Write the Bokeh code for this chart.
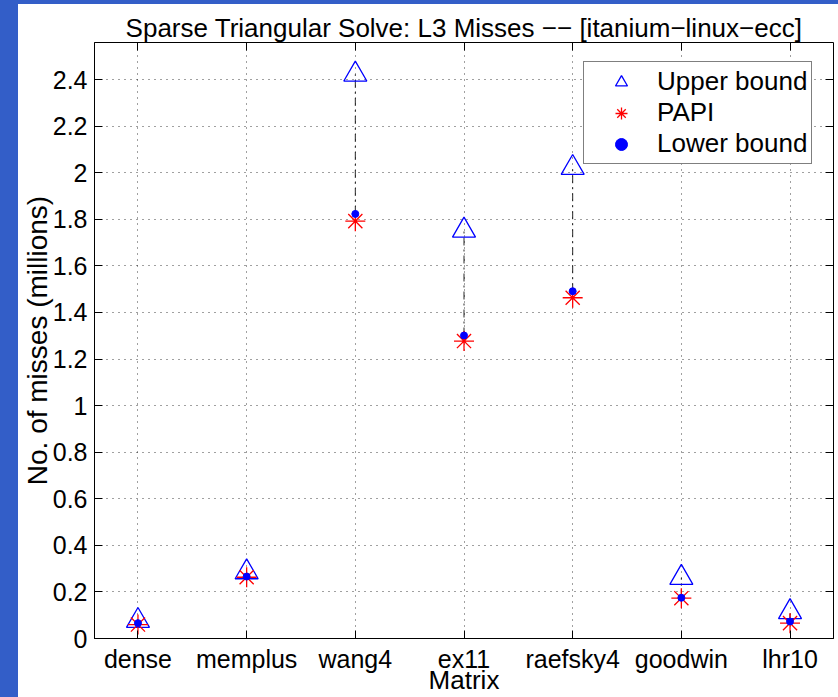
from bokeh.plotting import figure
from bokeh.models import (FixedTicker, LinearAxis, Legend, LegendItem, Range1d,
                          Spacer, Row, Column, ColumnDataSource)
from bokeh.embed import file_html
from bokeh.resources import INLINE

# ---- data ----
matrices = ["dense", "memplus", "wang4", "ex11", "raefsky4", "goodwin", "lhr10"]
upper_bound = [0.076, 0.285, 2.422, 1.752, 2.021, 0.261, 0.114]
papi = [0.060, 0.263, 1.792, 1.277, 1.463, 0.173, 0.066]
lower_bound = [0.066, 0.266, 1.823, 1.301, 1.491, 0.175, 0.073]
y_ticks = [0, 0.2, 0.4, 0.6, 0.8, 1.0, 1.2, 1.4, 1.6, 1.8, 2.0, 2.2, 2.4]
y_tick_labels = ["0", "0.2", "0.4", "0.6", "0.8", "1", "1.2", "1.4", "1.6", "1.8", "2", "2.2", "2.4"]

TITLE = "Sparse Triangular Solve: L3 Misses \u2212\u2212 [itanium\u2212linux\u2212ecc]"
FONT = "Liberation Sans"
BLUE_BORDER = "#335ec8"

xs = list(range(1, len(matrices) + 1))
src = ColumnDataSource(dict(x=xs, upper=upper_bound, papi=papi, lower=lower_bound))

p = figure(width=820, height=693, x_range=Range1d(0.6, 7.4), y_range=Range1d(0, 2.559),
           output_backend="svg", toolbar_location=None, title=TITLE,
           min_border_left=76, min_border_right=5, min_border_top=38, min_border_bottom=59)
p.background_fill_color = "white"
p.border_fill_color = "white"
p.outline_line_color = "black"
p.outline_line_width = 1

p.title.text_font = FONT
p.title.text_font_size = "26px"
p.title.text_font_style = "normal"
p.title.text_color = "black"
p.title.align = "center"
p.title.standoff = 0

# axes
xa = p.xaxis[0]
xa.ticker = FixedTicker(ticks=xs)
xa.major_label_overrides = {x: m for x, m in zip(xs, matrices)}
ya = p.yaxis[0]
ya.ticker = FixedTicker(ticks=y_ticks)
ya.major_label_overrides = {t: l for t, l in zip(y_ticks, y_tick_labels)}
for ax in (xa, ya):
    ax.major_label_text_font = FONT
    ax.major_label_text_font_size = "25px"
    ax.major_label_text_color = "black"
    ax.axis_label_text_font = FONT
    ax.axis_label_text_font_style = "normal"
    ax.axis_label_text_color = "black"
    ax.major_tick_in = 8
    ax.major_tick_out = 0
    ax.minor_tick_line_color = None
    ax.axis_line_color = "black"
    ax.major_tick_line_color = "black"
xa.axis_label = "Matrix"
xa.axis_label_text_font_size = "26px"
xa.major_label_standoff = 6
xa.axis_label_standoff = -11
ya.axis_label = "No. of misses (millions)"
ya.axis_label_text_font_size = "28px"
ya.major_label_standoff = 7
ya.axis_label_standoff = -3

# inward ticks on the right and top edges (no labels drawn)
ra = LinearAxis(ticker=FixedTicker(ticks=y_ticks), major_label_text_font_size="1px",
                major_label_text_color=None,
                major_tick_in=8, major_tick_out=0, minor_tick_line_color=None,
                axis_line_color=None, major_label_standoff=0)
ta = LinearAxis(ticker=FixedTicker(ticks=xs), major_label_text_font_size="1px",
                major_label_text_color=None,
                major_tick_in=8, major_tick_out=0, minor_tick_line_color=None,
                axis_line_color=None, major_label_standoff=0)
p.add_layout(ra, "right")
p.add_layout(ta, "above")

# grid
for g in (p.xgrid[0], p.ygrid[0]):
    g.grid_line_color = "black"
    g.grid_line_alpha = 0.75
    g.grid_line_dash = "1 5"
    g.grid_line_width = 1
p.xgrid[0].ticker = FixedTicker(ticks=xs)
p.ygrid[0].ticker = FixedTicker(ticks=y_ticks)

# range lines
p.segment(x0="x", y0="lower", x1="x", y1="upper", source=src,
          line_color="black", line_dash="8 4 2 4", line_width=1, line_alpha=0.85)

tri = p.scatter("x", "upper", source=src, marker="triangle", size=23,
                line_color="#0000ff", fill_color=None, line_width=1.3)
ast = p.scatter("x", "papi", source=src, marker="asterisk", size=20,
                line_color="#ff0000", line_width=1.3)
dot = p.scatter("x", "lower", source=src, marker="circle", size=7,
                line_color="#0000ff", fill_color="#0000ff")

legend = Legend(items=[LegendItem(label="Upper bound", renderers=[tri]),
                       LegendItem(label="PAPI", renderers=[ast]),
                       LegendItem(label="Lower bound", renderers=[dot])],
                location=(489, 474))
legend.label_text_font = FONT
legend.label_text_font_size = "26px"
legend.label_text_color = "black"
legend.border_line_color = "black"
legend.border_line_width = 1
legend.background_fill_color = "white"
legend.background_fill_alpha = 1
legend.padding = 4
legend.spacing = 0
legend.label_height = 30
legend.glyph_height = 30
legend.glyph_width = 66
legend.label_standoff = 3
legend.margin = 0
p.add_layout(legend, "center")

left_band = Spacer(width=18, height=697, styles={"background-color": BLUE_BORDER})
top_band = Spacer(width=820, height=4, styles={"background-color": BLUE_BORDER})
layout = Row(left_band, Column(top_band, p, spacing=0), spacing=0)

open("out.html", "w").write(file_html(layout, INLINE))
